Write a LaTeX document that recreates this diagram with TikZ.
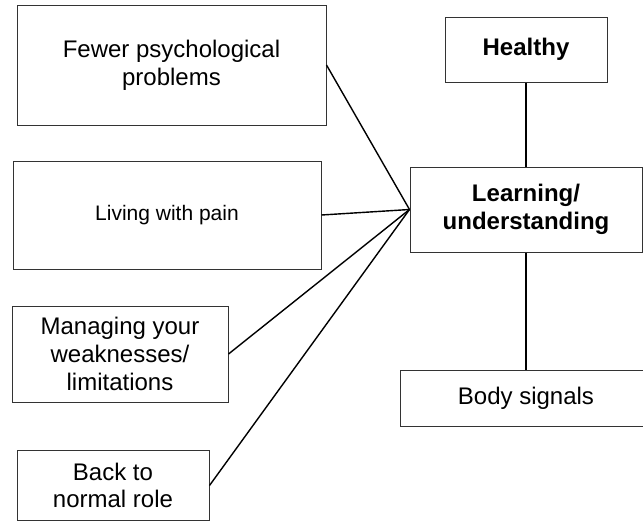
\documentclass[tikz,border=0pt]{standalone}
\usepackage{fontspec}
\setmainfont{Liberation Sans}
\begin{document}
\begin{tikzpicture}[x=1pt,y=-1pt,
  box/.style={draw=black!80,line width=1pt,inner sep=0pt,align=center,
    font=\fontsize{24}{27.6}\selectfont},
  conn/.style={draw=black,line width=1.4pt}]
\useasboundingbox (0,0) rectangle (643,522);
\node[box,minimum width=309pt,minimum height=120pt] (b1) at (171.5,65) {Fewer psychological\\problems};
\node[box,minimum width=308pt,minimum height=108pt,font=\fontsize{21}{24}\selectfont] (b2) at (167,215) {Living with pain};
\node[box,minimum width=216pt,minimum height=96pt] (b3) at (120,354) {Managing your\\weaknesses/\\limitations};
\node[box,minimum width=192pt,minimum height=70pt] (b4) at (113,485.5) {Back to\\normal role};
\node[box,minimum width=162pt,minimum height=65pt] (healthy) at (526,49.5) {\bfseries Healthy};
\node[box,minimum width=232pt,minimum height=85pt] (learn) at (526,209.5) {\bfseries Learning/\\\bfseries understanding};
\node[box,minimum width=252pt,minimum height=56pt] (body) at (526,398) {Body signals};
\draw[conn] (b1.east) -- (learn.west);
\draw[conn] (b2.east) -- (learn.west);
\draw[conn] (b3.east) -- (learn.west);
\draw[conn] (b4.east) -- (learn.west);
\draw[conn] (healthy.south) -- (learn.north);
\draw[conn] (learn.south) -- (body.north);
\end{tikzpicture}
\end{document}
